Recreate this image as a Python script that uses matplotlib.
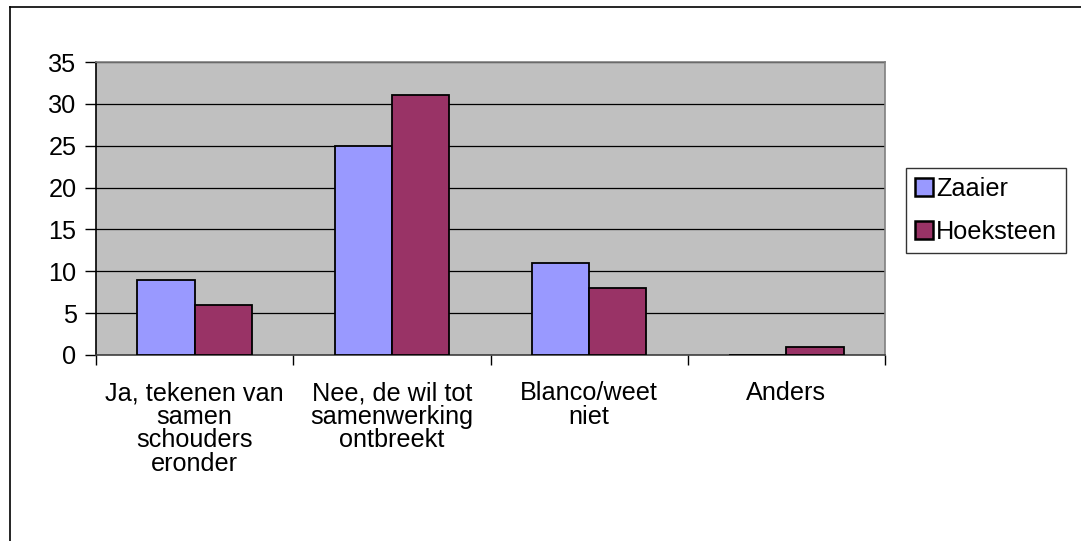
import matplotlib
matplotlib.use("Agg")
import matplotlib.pyplot as plt
from matplotlib.lines import Line2D
import numpy as np

categories = ["Ja, tekenen van\nsamen\nschouders\neronder",
              "Nee, de wil tot\nsamenwerking\nontbreekt",
              "Blanco/weet\nniet",
              "Anders"]
series_names = ["Zaaier", "Hoeksteen"]
zaaier = [9, 25, 11, 0]
hoeksteen = [6, 31, 8, 1]
y_ticks = [0, 5, 10, 15, 20, 25, 30, 35]

plt.rcParams['font.family'] = ['Liberation Sans', 'DejaVu Sans']
FS = 18.2

fig = plt.figure(figsize=(10.81, 5.41), dpi=100)
fig.patch.set_facecolor('white')
W, H = 1081, 541
ax = fig.add_axes([96 / W, 1 - 355 / H, (885 - 96) / W, (355 - 62) / H])
ax.set_facecolor('#C0C0C0')

x = np.arange(len(categories))
bw = 0.29
ax.bar(x - bw / 2, zaaier, bw, color='#9999FF', edgecolor='black', linewidth=1.3,
       label=series_names[0], zorder=3)
ax.bar(x + bw / 2, hoeksteen, bw, color='#993366', edgecolor='black', linewidth=1.3,
       label=series_names[1], zorder=3)

ax.set_xlim(-0.5, len(categories) - 0.5)
ax.set_ylim(0, 35)
ax.set_yticks(y_ticks)
ax.set_yticklabels([str(v) for v in y_ticks], fontsize=FS)
ax.yaxis.grid(True, color='black', linewidth=0.9, zorder=1)
ax.set_axisbelow(True)
ax.tick_params(axis='y', direction='out', length=8, width=1, color='black', pad=6)

ax.set_xticks(x)
ax.set_xticklabels(categories, fontsize=FS, linespacing=0.97)
ax.tick_params(axis='x', which='major', length=0, pad=19)
ax.set_xticks(np.arange(-0.5, len(categories), 1.0), minor=True)
ax.tick_params(axis='x', which='minor', direction='out', length=7, width=1, color='black')

ax.spines['left'].set_color('black')
ax.spines['bottom'].set_color('#404040')
ax.spines['top'].set_color('#808080')
ax.spines['right'].set_color('#808080')
for s in ax.spines.values():
    s.set_linewidth(1.2)

leg = fig.legend(loc='upper left', bbox_to_anchor=(906 / W, 1 - 168 / H),
                 fontsize=FS, frameon=True, fancybox=False, shadow=False,
                 handlelength=0.7, handleheight=0.7, handletextpad=0.15,
                 borderpad=0.35, labelspacing=0.75, borderaxespad=0)
leg.get_frame().set_edgecolor('black')
leg.get_frame().set_linewidth(1.0)
for p in leg.get_patches():
    p.set_linewidth(1.8)

# chart outer border (left and top edges visible)
fig.add_artist(Line2D([10 / W, 10 / W], [-0.1, 1 - 7 / H], transform=fig.transFigure,
                      color='black', linewidth=1.2))
fig.add_artist(Line2D([10 / W, 1.1], [1 - 7 / H, 1 - 7 / H], transform=fig.transFigure,
                      color='black', linewidth=1.2))

fig.savefig('out.png', dpi=100)
